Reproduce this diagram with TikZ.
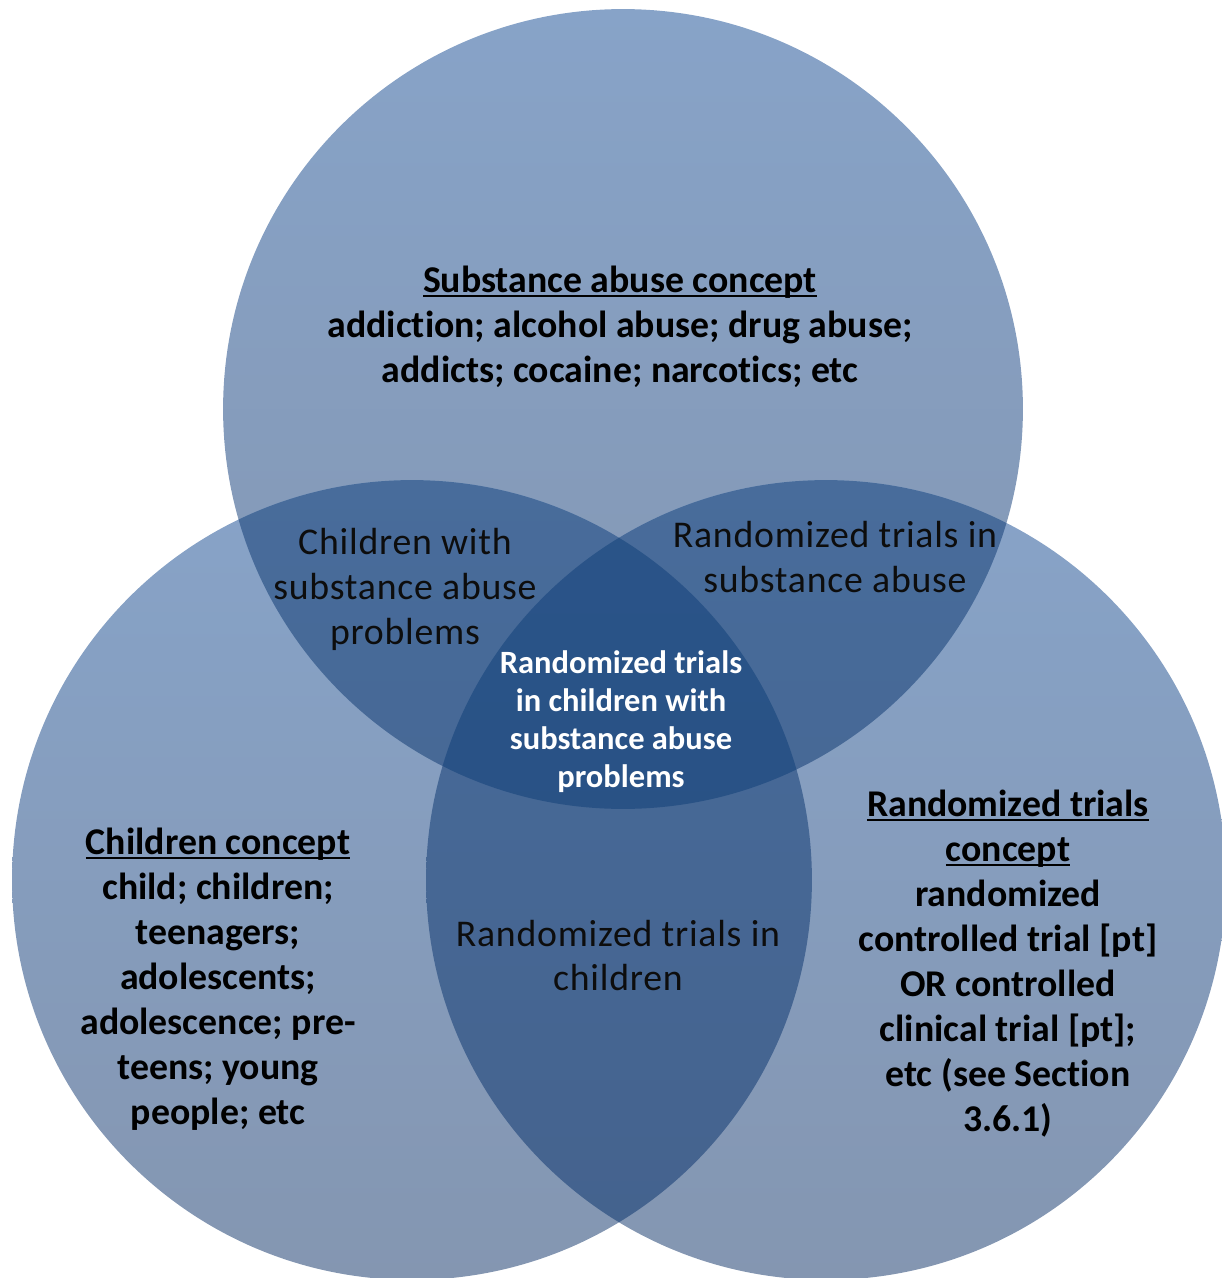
\documentclass[tikz,border=0pt]{standalone}
\usepackage{fontspec}
\setmainfont{Carlito}[Ligatures=NoCommon]
\newfontfamily\spacedfont{Carlito}[Ligatures=NoCommon, LetterSpace=2]
\usetikzlibrary{positioning}
\definecolor{singletop}{HTML}{87A3C8}
\definecolor{singlebot}{HTML}{8496B1}
\definecolor{pairtop}{HTML}{486C9B}
\definecolor{pairbot}{HTML}{44628D}
\definecolor{coretop}{HTML}{2A5489}
\definecolor{corebot}{HTML}{274F80}
\newcommand{\headline}[1]{\setbox0\hbox{#1}\rlap{\rule[-2.4pt]{\wd0}{1.1pt}}\box0}

\begin{document}
\begin{tikzpicture}[
    x=0.02cm, y=-0.02cm,
    single/.style={top color=singletop, bottom color=singlebot},
    pair/.style={top color=pairtop, bottom color=pairbot},
    concept/.style={align=center, font=\fontsize{21.5}{25.6}\selectfont\bfseries, text=black},
    overlap/.style={align=center, font=\spacedfont\fontsize{21.5}{25.6}\selectfont, text=black!95},
    core/.style={align=center, font=\fontsize{18.5}{21.6}\selectfont\bfseries, text=white},
]
\useasboundingbox (0,0) rectangle (1222,1278);

% circle centres
\coordinate (sub) at (623,409);
\coordinate (chi) at (412,880);
\coordinate (rct) at (826,880);

\shade[single] (sub) circle[radius=8cm];
\shade[single] (chi) circle[radius=8cm];
\shade[single] (rct) circle[radius=8cm];

% pairwise overlaps
\begin{scope}
  \clip (sub) circle[radius=8cm];
  \shade[pair] (chi) circle[radius=8cm];
  \shade[pair] (rct) circle[radius=8cm];
\end{scope}
\begin{scope}
  \clip (chi) circle[radius=8cm];
  \shade[pair] (rct) circle[radius=8cm];
\end{scope}

% centre
\begin{scope}
  \clip (sub) circle[radius=8cm];
  \clip (chi) circle[radius=8cm];
  \shade[top color=coretop, bottom color=corebot] (rct) circle[radius=8cm];
\end{scope}

\node[concept] (subtxt) at (620,327) {\headline{Substance abuse concept}\\addiction; alcohol abuse; drug abuse;\\addicts; cocaine; narcotics; etc};
\node[concept] (chitxt) at (218,979.5) {\headline{Children concept}\\child; children;\\teenagers;\\adolescents;\\adolescence; pre-\\teens; young\\people; etc};
\node[concept] (rcttxt) at (1008,964) {\headline{Randomized trials}\\\headline{concept}\\randomized\\controlled trial [pt]\\OR controlled\\clinical trial [pt];\\etc (see Section\\3.6.1)};

\node[overlap] (subchi) at (405,589) {Children with\\substance abuse\\problems};
\node[overlap] (subrct) at (835,557.5) {Randomized trials in\\substance abuse};
\node[overlap] (chirct) at (618,955.5) {Randomized trials in\\children};

\node[core] (all) at (621,722) {Randomized trials\\in children with\\substance abuse\\problems};
\end{tikzpicture}
\end{document}
